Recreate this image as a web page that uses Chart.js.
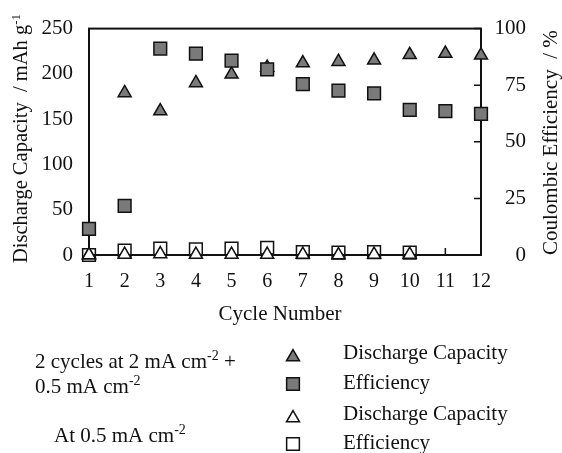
<!DOCTYPE html>
<html>
<head>
<meta charset="utf-8">
<title>Cycle performance</title>
<script src="https://cdn.jsdelivr.net/npm/chart.js@4.4.1/dist/chart.umd.min.js"></script>
<style>
  html, body { margin: 0; padding: 0; background: #fff; }
  #wrap { width: 562px; height: 453px; }
</style>
</head>
<body>
<div id="wrap"><canvas id="cycle-chart" width="562" height="453"></canvas></div>
<script>
// values
var cycles = ['1', '2', '3', '4', '5', '6', '7', '8', '9', '10', '11', '12'];
// 2 cycles at 2 mA cm-2 + 0.5 mA cm-2
var capacityMixed = [0, 179, 159, 190, 199.5, 207, 212, 213.5, 215, 221, 222.5, 220.5];
var efficiencyMixed = [11.5, 21.7, 91.2, 88.9, 85.9, 82, 75.5, 72.6, 71.4, 64.1, 63.5, 62.3];
// at 0.5 mA cm-2
var capacityLow = [0, 0.5, 1, 0.5, 0.5, 0.5, 0.5, 0, 0.5, 0.5];
var efficiencyLow = [0, 1.9, 2.8, 2.5, 2.8, 3.2, 1.3, 1, 1.3, 1];
var capacityTicks = [0, 50, 100, 150, 200, 250];
var efficiencyTicks = [0, 25, 50, 75, 100];

var FONT = '"Liberation Serif", "Times New Roman", serif';
var INK = '#111';
var GREY = '#7a7a7a';

// draws text with superscript parts, starting at x,y (alphabetic baseline)
function drawRich(ctx, parts, x, y, size) {
    ctx.textBaseline = 'alphabetic';
    ctx.textAlign = 'left';
    parts.forEach(function(p) {
        var s = p.sup ? Math.round(size * 0.65) : size;
        ctx.font = s + 'px ' + FONT;
        ctx.fillText(p.t, x, p.sup ? y - size * 0.36 : y);
        x += ctx.measureText(p.t).width;
    });
}

function marker(ctx, style, fill, x, y, r) {
    ctx.beginPath();
    if (style === 'triangle') {
        ctx.moveTo(x, y - r);
        ctx.lineTo(x + r * 0.866, y + r / 2);
        ctx.lineTo(x - r * 0.866, y + r / 2);
        ctx.closePath();
    } else {
        var h = r * Math.SQRT1_2;
        ctx.rect(x - h, y - h, 2 * h, 2 * h);
    }
    ctx.fillStyle = fill;
    ctx.fill();
    ctx.lineWidth = 1.5;
    ctx.strokeStyle = INK;
    ctx.stroke();
}

// start: frame and inward ticks
var framePlugin = {
    id: 'frame',
    beforeDatasetsDraw: function(chart) {
        var ctx = chart.ctx, a = chart.chartArea;
        var xs = chart.scales.x, yr = chart.scales.yEff;
        ctx.save();
        ctx.strokeStyle = INK;
        ctx.lineWidth = 2;
        ctx.strokeRect(a.left, a.top, a.right - a.left, a.bottom - a.top);
        ctx.lineWidth = 1.5;
        ctx.beginPath();
        cycles.forEach(function(c, i) {
            var px = xs.getPixelForValue(i);
            ctx.moveTo(px, a.bottom);
            ctx.lineTo(px, a.bottom - 7);
        });
        efficiencyTicks.forEach(function(v) {
            var py = yr.getPixelForValue(v);
            ctx.moveTo(a.right, py);
            ctx.lineTo(a.right - 7, py);
        });
        ctx.stroke();
        ctx.restore();
    }
};
// end: frame

// start: titles and legend
var textPlugin = {
    id: 'texts',
    afterDraw: function(chart) {
        var ctx = chart.ctx, a = chart.chartArea;
        ctx.save();
        ctx.fillStyle = INK;

        ctx.save();
        ctx.translate(27, 263);
        ctx.rotate(-Math.PI / 2);
        drawRich(ctx, [{t: 'Discharge Capacity  / mAh g'}, {t: '-1', sup: true}], 0, 0, 20.5);
        ctx.restore();

        ctx.save();
        ctx.translate(557, 255);
        ctx.rotate(-Math.PI / 2);
        drawRich(ctx, [{t: 'Coulombic Efficiency  / %'}], 0, 0, 21);
        ctx.restore();

        ctx.font = '21px ' + FONT;
        ctx.textAlign = 'center';
        ctx.textBaseline = 'alphabetic';
        ctx.fillText('Cycle Number', (a.left + a.right) / 2 - 5, 320);

        drawRich(ctx, [{t: '2 cycles at 2 mA cm'}, {t: '-2', sup: true}, {t: ' +'}], 35, 368, 21);
        drawRich(ctx, [{t: '0.5 mA cm'}, {t: '-2', sup: true}], 35, 393, 21);
        drawRich(ctx, [{t: 'At 0.5 mA cm'}, {t: '-2', sup: true}], 54, 442, 21);

        var rows = [
            {style: 'triangle', fill: GREY, y: 357, text: 'Discharge Capacity', ty: 359},
            {style: 'rect', fill: GREY, y: 384, text: 'Efficiency', ty: 389},
            {style: 'triangle', fill: '#fff', y: 418, text: 'Discharge Capacity', ty: 420},
            {style: 'rect', fill: '#fff', y: 444, text: 'Efficiency', ty: 449}
        ];
        rows.forEach(function(r) {
            marker(ctx, r.style, r.fill, 293, r.y, r.style === 'triangle' ? 7.5 : 9);
            ctx.fillStyle = INK;
            drawRich(ctx, [{t: r.text}], 343, r.ty, 21);
        });
        ctx.restore();
    }
};
// end: titles and legend

function series(label, data, style, fill, axis, order, radius) {
    return {
        label: label,
        data: data,
        yAxisID: axis,
        showLine: false,
        pointStyle: style,
        pointRadius: radius,
        pointHoverRadius: radius,
        pointBackgroundColor: fill,
        pointBorderColor: INK,
        pointBorderWidth: 1.5,
        order: order,
        clip: false
    };
}

var ctx = document.getElementById('cycle-chart').getContext('2d');
var cycleChart = new Chart(ctx, {
    type: 'line',
    data: {
        labels: cycles,
        datasets: [
            series('Discharge Capacity', capacityMixed, 'triangle', GREY, 'yCap', 4, 7.5),
            series('Efficiency', efficiencyMixed, 'rect', GREY, 'yEff', 3, 9),
            series('Efficiency', efficiencyLow, 'rect', 'rgba(255,255,255,0)', 'yEff', 2, 9),
            series('Discharge Capacity', capacityLow, 'triangle', '#fff', 'yCap', 1, 7.5)
        ]
    },
    options: {
        responsive: false,
        animation: false,
        devicePixelRatio: 1,
        layout: { padding: { left: 0, top: 28, right: 36, bottom: 153 } },
        plugins: {
            legend: { display: false },
            tooltip: { enabled: false }
        },
        scales: {
            x: {
                type: 'category',
                offset: false,
                grid: { display: false, drawTicks: false },
                border: { display: false },
                ticks: { color: INK, font: { family: FONT, size: 20 }, padding: 15, maxRotation: 0, autoSkip: false },
                afterFit: function(s) { s.height = 45; }
            },
            yCap: {
                position: 'left',
                min: 0,
                max: 250,
                grid: { display: false, drawTicks: false },
                border: { display: false },
                ticks: { color: INK, font: { family: FONT, size: 21 }, padding: 16 },
                afterBuildTicks: function(s) { s.ticks = capacityTicks.map(function(v) { return {value: v}; }); },
                afterFit: function(s) { s.width = 89; }
            },
            yEff: {
                position: 'right',
                min: 0,
                max: 100,
                grid: { display: false, drawTicks: false },
                border: { display: false },
                ticks: { color: INK, font: { family: FONT, size: 21 }, padding: 13, crossAlign: 'far' },
                afterBuildTicks: function(s) { s.ticks = efficiencyTicks.map(function(v) { return {value: v}; }); },
                afterFit: function(s) { s.width = 45; }
            }
        }
    },
    plugins: [framePlugin, textPlugin]
});
</script>
</body>
</html>
